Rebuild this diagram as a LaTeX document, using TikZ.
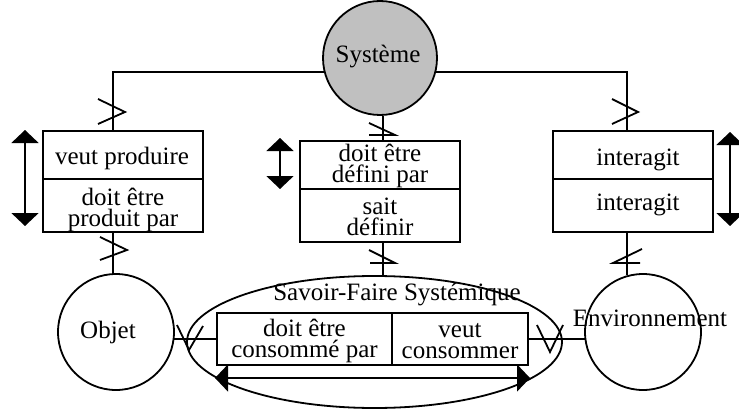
\documentclass[tikz,border=0pt]{standalone}
\usepackage{fontspec}
\setmainfont{Liberation Serif}
\usetikzlibrary{arrows.meta,shapes.geometric}
\begin{document}
\begin{tikzpicture}[x=1pt,y=-1pt,
  every node/.style={font=\fontsize{25}{21}\selectfont, inner sep=0pt, align=center},
  line/.style={line width=1.8pt},
  boxcell/.style={draw, line width=1.8pt, rectangle, minimum width=160pt},
  ring/.style={draw, line width=1.8pt, circle, minimum size=116pt},
  tick/.style={line width=1.8pt},
  dbl/.style={line width=1.8pt, {Triangle[length=13pt,width=27pt]}-{Triangle[length=13pt,width=27pt]}}]
\useasboundingbox (0,0) rectangle (739,412);

% ellipse and inner boxes
\node[draw, line width=1.8pt, ellipse, minimum width=375pt, minimum height=132pt] (ell) at (374.5,342) {};
\node (sfs) at (397,295) {Savoir-Faire Systémique};
\node[draw, line width=1.8pt, minimum width=175pt, minimum height=52pt] (il) at (304.5,339) {};
\node[draw, line width=1.8pt, minimum width=136pt, minimum height=52pt] (ir) at (460,339) {};
\node (ilt) at (304.5,341) {doit être\\consommé par};
\node (irt) at (460,341) {veut\\consommer};

% boxes
\node[boxcell, minimum height=48pt] (lt) at (123,155) {};
\node[boxcell, minimum height=53pt] (lb) at (123,205.5) {};
\node[boxcell, minimum height=48pt] (ct) at (380,165) {};
\node[boxcell, minimum height=53pt] (cb) at (380,215.5) {};
\node[boxcell, minimum height=48pt] (rt) at (633,155) {};
\node[boxcell, minimum height=53pt] (rb) at (633,205.5) {};
\node (ltt) at (122,158) {veut produire};
\node (lbt) at (123,210) {doit être\\produit par};
\node (ctt) at (380,166) {doit être\\défini par};
\node (cbt) at (380,217) {sait\\définir};
\node (rtt) at (638,160) {interagit};
\node (rbt) at (638,205) {interagit};

% circles
\node[ring] (obj) at (116,332) {};
\node (objt) at (108,332) {Objet};
\node[ring] (env) at (643,332) {};
\node (envt) at (650,318) {Environnement};

% connectors
\coordinate (jl) at (113,72);
\coordinate (jr) at (627,72);
\draw[line] (jl |- lt.north) -- (jl) -- (jr) -- (jr |- rt.north);
\draw[line] (jl |- lb.south) -- (jl |- obj.north);
\draw[line] (rb.south -| env.106) -- (env.106);
\draw[line] ([xshift=3pt]cb.south) -- ([xshift=3pt]cb.south |- ell.north);
\draw[line] (obj.-7) -- (obj.-7 -| il.west);
\draw[line] (ir.east |- env.187) -- (env.187);

% system circle on top
\node[draw, line width=1.8pt, circle, fill={rgb,255:red,192;green,192;blue,192}, minimum size=114pt] (sys) at (380,58) {};
\node (syst) at (378,57) {Système};
\draw[line] ([xshift=3pt]sys.south) -- ([xshift=3pt]sys.south |- ct.north);

% ticks
\draw[tick] (98,99) -- (125,112) -- (98,124);
\draw[tick] (612,99) -- (638,112) -- (612,124);
\draw[tick] (100,237) -- (127,250) -- (100,260);
\draw[tick] (369,123) -- (395,135) -- (369,135);
\draw[tick] (369,250) -- (395,263) -- (370,263);
\draw[tick] (642,249) -- (613,263) -- (640,263);
\draw[tick] (177,325) -- (189,350) -- (203,326);
\draw[tick] (537,325) -- (550,352) -- (563,325);

% double arrows
\coordinate (a1s) at (25,130); \coordinate (a1e) at (25,226);
\coordinate (a2s) at (280,138); \coordinate (a2e) at (280,189);
\coordinate (a3s) at (730,132); \coordinate (a3e) at (730,226);
\coordinate (a4s) at (215,378); \coordinate (a4e) at (530,378);
\draw[dbl] (a1s) -- (a1e);
\draw[dbl] (a2s) -- (a2e);
\draw[dbl] (a3s) -- (a3e);
\draw[dbl] (a4s) -- (a4e);
\end{tikzpicture}
\end{document}
